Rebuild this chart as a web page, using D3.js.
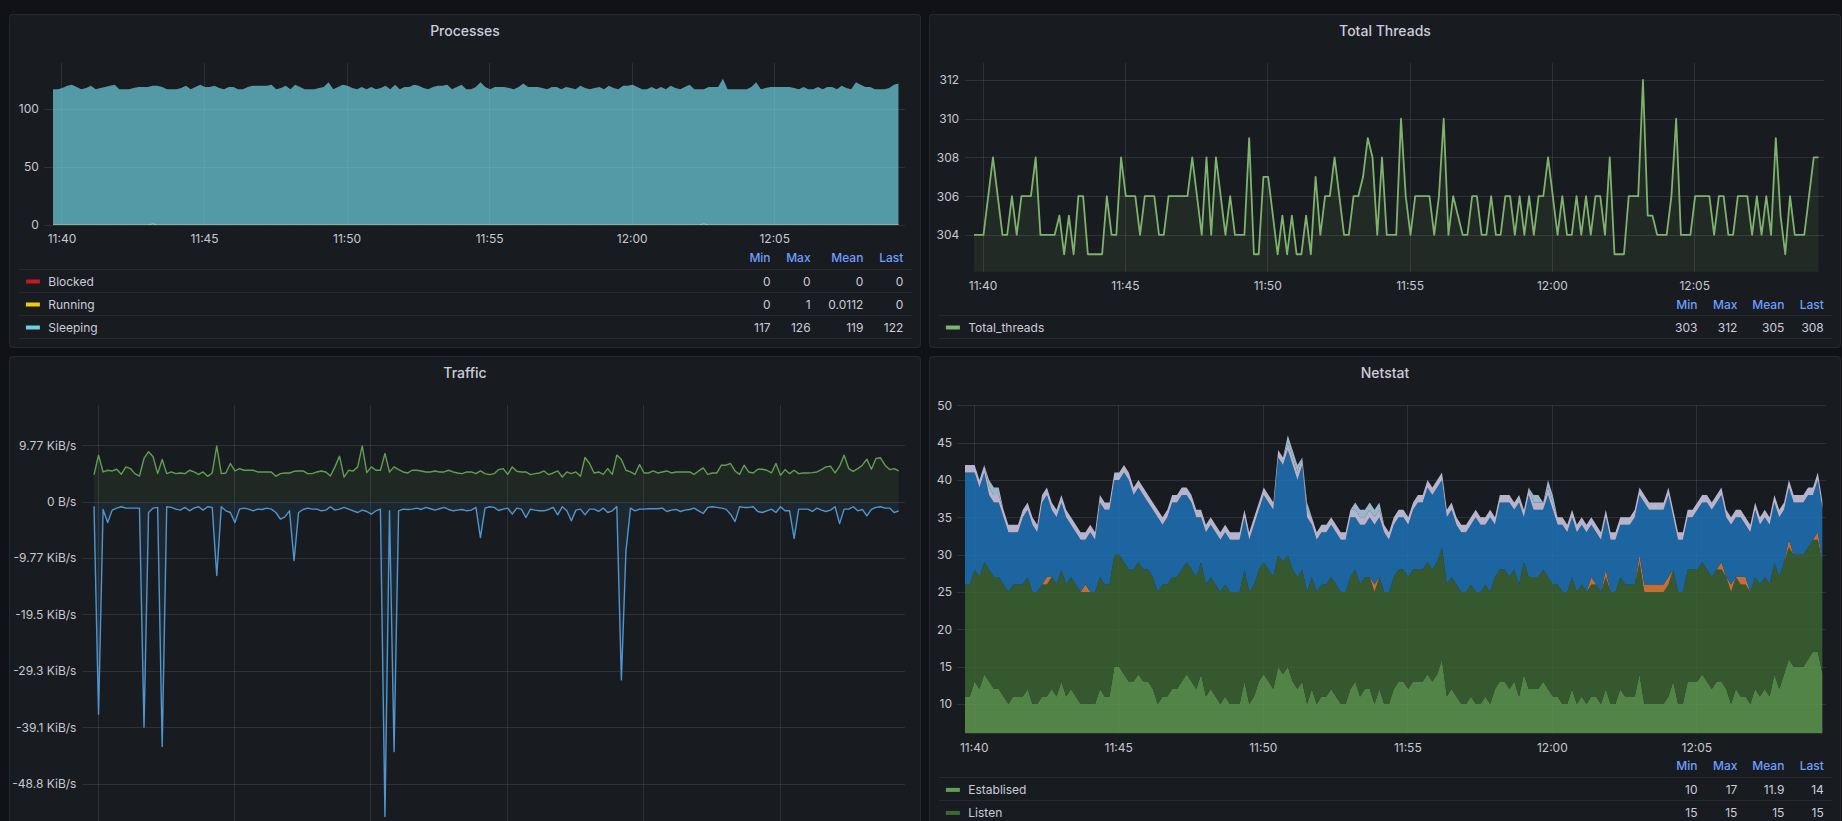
<!DOCTYPE html>
<html>
<head>
<meta charset="utf-8">
<script src="https://cdn.jsdelivr.net/npm/d3@7"></script>
<style>
html,body{margin:0;padding:0;background:#111217;overflow:hidden}
svg{display:block}
</style>
</head>
<body>
<svg id="chart" width="1842" height="821"></svg>
<script>
// ---------------- DATA ----------------
const startClock = [11, 39, 42];   // first sample time (h, m, s)
const stepSeconds = 10;            // sample interval
const legendHeaders = ["Min", "Max", "Mean", "Last"];

// Processes
const procBlocked = [
0,0,0,0,0,0,0,0,0,0, 0,0,0,0,0,0,0,0,0,0, 0,0,0,0,0,0,0,0,0,0, 0,0,0,0,0,0,0,0,0,0,
0,0,0,0,0,0,0,0,0,0, 0,0,0,0,0,0,0,0,0,0, 0,0,0,0,0,0,0,0,0,0, 0,0,0,0,0,0,0,0,0,0,
0,0,0,0,0,0,0,0,0,0, 0,0,0,0,0,0,0,0,0,0, 0,0,0,0,0,0,0,0,0,0, 0,0,0,0,0,0,0,0,0,0,
0,0,0,0,0,0,0,0,0,0, 0,0,0,0,0,0,0,0,0,0, 0,0,0,0,0,0,0,0,0,0, 0,0,0,0,0,0,0,0,0,0,
0,0,0,0,0,0,0,0,0,0, 0,0,0,0,0,0,0,0,0];
const procRunning = [
0,0,0,0,0,0,0,0,0,0, 0,0,0,0,0,0,0,0,0,0, 0,1,0,0,0,0,0,0,0,0, 0,0,0,0,0,0,0,0,0,0,
0,0,0,0,0,0,0,0,0,0, 0,0,0,0,0,0,0,0,0,0, 0,0,0,0,0,0,0,0,0,0, 0,0,0,0,0,0,0,0,0,0,
0,0,0,0,0,0,0,0,0,0, 0,0,0,0,0,0,0,0,0,0, 0,0,0,0,0,0,0,0,0,0, 0,0,0,0,0,0,0,0,0,0,
0,0,0,0,0,0,0,0,0,0, 0,0,0,0,0,0,0,1,0,0, 0,0,0,0,0,0,0,0,0,0, 0,0,0,0,0,0,0,0,0,0,
0,0,0,0,0,0,0,0,0,0, 0,0,0,0,0,0,0,0,0];
const procSleeping = [
117,117,118,120,121,119,117,118,120,117, 118,119,120,121,117,117,117,118,119,119,
119,120,120,119,117,117,117,118,120,117, 119,121,119,119,120,118,117,119,119,117,
117,119,120,120,120,120,121,117,118,120, 117,121,119,117,117,117,118,119,123,117,
119,121,120,118,117,119,117,119,117,118, 120,117,121,117,119,119,121,120,118,117,
119,120,120,121,117,119,121,117,117,119, 123,119,117,119,119,119,118,117,119,122,
119,119,119,118,117,119,119,117,119,118, 117,120,118,117,118,119,117,120,118,117,
120,120,121,119,117,117,119,117,119,117, 120,118,117,119,121,117,117,117,119,119,
119,126,117,117,117,117,117,119,123,117, 118,119,119,119,119,119,118,117,119,117,
117,119,117,119,119,117,120,118,117,123, 121,119,119,117,117,117,118,121,122];
const procYTicks = [0, 50, 100];
const procLegend = [
  {name: "Blocked",  stats: ["0", "0", "0", "0"]},
  {name: "Running",  stats: ["0", "1", "0.0112", "0"]},
  {name: "Sleeping", stats: ["117", "126", "119", "122"]}
];

// Total Threads
const totalThreads = [
304,304,304,306,308,306,304,304,306,304, 306,306,306,308,304,304,304,304,305,303,
305,303,306,306,303,303,303,303,306,304, 304,308,306,306,306,304,306,306,306,304,
304,306,306,306,306,306,308,306,304,308, 304,308,306,304,306,304,304,304,309,303,
303,307,307,305,303,305,303,305,303,303, 305,303,307,304,306,306,308,306,304,304,
306,306,307,309,308,304,308,304,304,304, 310,306,304,306,306,306,306,304,306,310,
304,306,305,304,304,306,306,304,304,306, 304,304,306,306,304,306,304,306,304,306,
306,308,306,304,306,304,304,306,304,306, 304,306,306,304,308,303,303,303,306,306,
306,312,305,305,304,304,304,306,310,304, 304,304,306,306,306,306,304,306,306,304,
304,306,306,306,304,306,304,306,304,309, 305,303,306,304,304,304,306,308,308];
const threadYTicks = [304, 306, 308, 310, 312];
const threadLegend = [{name: "Total_threads", stats: ["303", "312", "305", "308"]}];

// Traffic (B/s), starts one sample later than the others
const trafficRecv = [
4790,8260,5270,5570,5450,5750,4850,6170,5870,4970, 4550,7660,8860,7960,4970,7490,4970,5270,4970,5090,
4970,5570,5270,4850,5270,4490,5090,9880,4970,5090, 6770,5450,5870,5570,5570,5570,5270,5270,5270,5270,
4490,4970,5090,5090,5390,5450,5450,4970,4970,5270, 5450,5270,4550,6170,8080,4370,5570,5450,6170,9880,
5150,6170,5570,5570,8560,5270,6170,5690,5270,5090, 5570,5570,5450,5270,5270,5450,5270,5270,5570,5270,
5090,4970,5270,5270,4970,5450,4970,4790,4970,5690, 5870,4850,6170,5390,5270,5270,4790,4970,5090,5450,
4790,5090,5450,4370,5270,4970,5270,4490,7840,6770, 5090,5270,4850,5870,4850,8260,7490,5570,5270,4850,
6590,5090,5090,5450,5090,5270,5450,5090,5270,5270, 5270,5270,4850,5450,5990,4850,5090,5090,6470,6470,
6770,5450,4850,6470,5270,5090,5750,5750,5570,5090, 6770,4670,5690,4970,5570,4970,5090,5090,5150,5270,
5690,6170,6290,5090,6290,8260,5870,5390,5870,6470, 7540,5750,7660,7780,6470,5690,5870,5450];
const trafficSent = [
-800,-37700,-1400,-3710,-1500,-1140,-900,-1140,-1140,-1140, -1140,-40000,-1900,-1140,-1020,-43400,-900,-1020,-1320,-1500,
-1020,-1620,-1140,-900,-1500,-900,-1020,-13100,-900,-1620, -1920,-3710,-1320,-1140,-1320,-1620,-1320,-1380,-1140,-1320,
-1920,-3110,-2690,-1620,-10460,-1920,-1380,-1140,-1320,-1320, -1620,-1500,-900,-1500,-1320,-1020,-1320,-1620,-1920,-1500,
-1740,-2220,-1620,-1320,-55850,-1620,-44330,-1620,-1320,-1380, -1320,-1140,-1380,-1020,-1260,-1500,-1260,-1020,-1380,-1620,
-1500,-1380,-1620,-1500,-1020,-6380,-1140,-900,-1020,-1560, -1320,-1140,-2220,-1140,-1320,-2810,-1320,-1500,-1620,-1620,
-1380,-1020,-2330,-900,-1620,-3370,-1500,-1320,-2330,-1320, -1320,-1740,-1140,-1920,-1620,-880,-31600,-8870,-1140,-1620,
-1320,-1320,-1260,-1260,-1260,-1140,-1740,-1500,-1380,-1740, -1500,-1380,-1140,-1620,-2100,-1020,-900,-1020,-1140,-1320,
-2220,-3530,-900,-1020,-1020,-900,-1740,-1920,-1620,-1320, -1920,-900,-1620,-1620,-6490,-1320,-1320,-1320,-1740,-1140,
-1500,-1740,-1500,-900,-3890,-1320,-1320,-900,-1620,-1380, -2520,-1380,-1020,-900,-1140,-1140,-1920,-1620];
const trafficYTicks = [10000, 0, -10000, -20000, -30000, -40000, -50000];

// Netstat (stacked)
const netEstablised = [
11,11,13,12,14,13,12,12,11,10, 11,11,11,12,10,10,11,11,12,11, 13,11,12,11,10,10,10,10,12,11,
11,15,15,14,13,13,14,13,13,12, 10,11,11,12,12,13,14,13,12,14, 11,12,11,10,11,10,10,10,13,10,
11,13,14,13,12,15,14,15,13,12, 13,10,12,10,11,11,12,11,10,10, 12,13,11,12,12,10,12,10,10,12,
13,13,12,13,13,13,14,13,14,16, 11,12,11,10,10,11,10,10,11,10, 12,13,13,12,13,11,14,12,12,12,
13,12,11,11,10,10,12,10,11,10, 11,11,10,12,10,10,12,11,11,11, 14,10,10,10,10,10,11,13,10,10,
13,13,13,14,13,12,13,13,12,10, 12,11,11,10,12,11,12,11,14,12, 14,16,15,15,15,16,17,17,14];
const netListen = [
15,15,15,15,15,15,15,15,15,15, 15,15,15,15,15,15,15,15,15,15, 15,15,15,15,15,15,15,15,15,15,
15,15,15,15,15,15,15,15,15,15, 15,15,15,15,15,15,15,15,15,15, 15,15,15,15,15,15,15,15,15,15,
15,15,15,15,15,15,15,15,15,15, 15,15,15,15,15,15,15,15,15,15, 15,15,15,15,15,15,15,15,15,15,
15,15,15,15,15,15,15,15,15,15, 15,15,15,15,15,15,15,15,15,15, 15,15,15,15,15,15,15,15,15,15,
15,15,15,15,15,15,15,15,15,15, 15,15,15,15,15,15,15,15,15,15, 15,15,15,15,15,15,15,15,15,15,
15,15,15,15,15,15,15,15,15,15, 15,15,15,15,15,15,15,15,15,15, 15,15,15,15,15,15,15,15,15];
const netCloseWait = [
0,0,0,0,0,0,0,0,0,0, 0,0,0,0,0,0,0,1,0,0, 0,0,0,0,0,1,0,0,0,0, 0,0,0,0,0,0,0,0,0,0,
0,0,0,0,0,0,0,0,0,0, 0,0,0,0,0,0,0,0,0,0, 0,0,0,0,0,0,0,0,0,0, 0,0,0,0,0,0,0,0,0,0,
0,0,0,0,0,1,0,0,0,0, 0,0,0,0,0,0,0,0,0,0, 0,0,0,0,0,0,0,0,0,0, 0,0,0,0,0,0,0,0,0,0,
0,0,0,0,0,0,0,0,0,0, 1,0,0,1,0,0,0,0,0,0, 1,1,1,1,1,1,1,0,0,0, 0,0,0,0,0,0,0,1,0,1,
0,1,1,0,0,0,0,0,0,0, 0,1,0,0,0,0,0,1,0];
const netTimeWait = [
15,15,13,12,12,10,10,10,9,8, 7,7,9,9,9,8,11,11,9,9, 9,9,7,7,7,6,8,7,10,10,
10,10,10,12,12,10,10,10,9,9, 10,8,9,10,10,10,9,9,8,6, 7,7,7,7,7,7,7,7,7,7,
8,8,9,9,9,13,13,14,14,13, 14,10,7,7,7,7,7,7,7,7, 8,7,8,7,8,8,8,8,7,7,
7,7,7,8,9,9,10,10,10,9, 9,9,8,8,8,8,10,9,8,10, 7,9,9,10,8,11,6,11,9,9,
8,11,10,8,9,8,8,8,8,8, 7,7,7,7,7,7,7,8,8,9, 8,11,10,10,10,10,11,7,7,7,
7,7,8,8,9,9,9,9,8,8, 8,8,7,8,9,8,8,8,8,8, 7,7,7,7,7,7,6,7,7];
const netSynSent = [
1,1,1,1,1,1,1,1,1,1, 1,1,1,1,1,1,1,1,1,1, 1,1,1,1,1,1,1,1,1,1, 1,1,1,1,1,1,1,1,1,1,
1,1,1,1,1,1,1,1,1,1, 1,1,1,1,1,1,1,1,1,1, 1,1,1,1,1,1,1,1,1,1, 1,1,1,1,1,1,1,1,1,1,
1,1,1,1,1,1,1,1,1,1, 1,1,1,1,1,1,1,1,1,1, 1,1,1,1,1,1,1,1,1,1, 1,1,1,1,1,1,1,1,1,1,
1,1,1,1,1,1,1,1,1,1, 1,1,1,1,1,1,1,1,1,1, 1,1,1,1,1,1,1,1,1,1, 1,1,1,1,1,1,1,1,1,1,
1,1,1,1,1,1,1,1,1,1, 1,1,1,1,1,1,1,1,1];
const netFinWait = [
0,0,0,0,0,1,1,1,0,0, 0,0,0,0,0,0,0,0,0,0, 0,0,0,0,0,0,0,0,0,0, 0,0,0,0,0,0,0,0,0,0,
0,0,0,0,0,0,0,0,0,0, 0,0,0,0,0,0,0,0,0,0, 0,0,0,0,0,0,0,1,1,1, 0,1,0,0,0,0,0,0,0,0,
0,1,1,1,1,1,1,0,0,0, 0,0,0,0,0,0,0,0,0,0, 0,0,0,0,0,0,0,0,0,0, 0,0,0,0,0,0,0,0,1,1,
0,1,1,0,0,0,0,0,0,0, 0,0,0,0,0,0,0,0,0,0, 0,0,0,0,0,0,0,0,0,0, 0,0,0,0,0,0,0,0,0,0,
0,0,0,0,0,0,0,0,0,0, 0,0,0,0,0,0,0,0,0];
const netYTicks = [10, 15, 20, 25, 30, 35, 40, 45, 50];
const netLegend = [
  {name: "Establised", stats: ["10", "17", "11.9", "14"]},
  {name: "Listen",     stats: ["15", "15", "15", "15"]}
];

// ---------------- STYLE ----------------
const FONT = "Inter, 'Noto Sans', sans-serif";
const TEXT = "#ccccdc";
const TICK = "#c8c8d2";
const GRID = "rgba(204,204,220,0.12)";
const SEP = "rgba(204,204,220,0.08)";
const HEAD = "#6E9FFF";

const times = d3.range(totalThreads.length).map(i =>
  new Date(2021, 0, 1, startClock[0], startClock[1], startClock[2] + i * stepSeconds));
const trafficTimes = times.slice(times.length - trafficRecv.length);

const svg = d3.select("#chart").attr("font-family", FONT);

function panel(x0, y0, x1, y1, title) {
  svg.append("rect").attr("x", x0).attr("y", y0).attr("width", x1 - x0).attr("height", y1 - y0)
    .attr("rx", 3).attr("fill", "#181b1f").attr("stroke", "rgba(204,204,220,0.1)");
  svg.append("text").attr("x", (x0 + x1) / 2).attr("y", y0 + 21.3).attr("text-anchor", "middle")
    .attr("fill", TEXT).attr("font-size", 14).attr("font-weight", 500).text(title);
}
function styleAxis(g) {
  g.select(".domain").remove();
  g.attr("font-family", FONT).attr("font-size", 12);
  g.selectAll(".tick line").attr("stroke", GRID).attr("shape-rendering", "crispEdges");
  g.selectAll(".tick text").attr("fill", TICK);
}
function yAxis(y, ticks, fmt, gx0, gx1, labelRight) {
  const g = svg.append("g").attr("transform", `translate(${gx0},0)`)
    .call(d3.axisLeft(y).tickValues(ticks).tickFormat(fmt)
      .tickSizeInner(-(gx1 - gx0)).tickSizeOuter(0).tickPadding(gx0 - labelRight));
  styleAxis(g);
}
function xAxis(x, top, bottom, labelCenterY, show) {
  const g = svg.append("g").attr("transform", `translate(0,${bottom})`)
    .call(d3.axisBottom(x).ticks(d3.timeMinute.every(5))
      .tickFormat(show ? d3.timeFormat("%H:%M") : () => "")
      .tickSizeInner(-(bottom - top)).tickSizeOuter(0)
      .tickPadding(labelCenterY + 4.3 - 8.52 - bottom));
  styleAxis(g);
}
function clip(id, x0, y0, x1, y1) {
  svg.append("clipPath").attr("id", id).append("rect")
    .attr("x", x0).attr("y", y0).attr("width", x1 - x0).attr("height", y1 - y0);
  return svg.append("g").attr("clip-path", `url(#${id})`);
}
function legend(o) {
  const g = svg.append("g").attr("font-size", 12);
  legendHeaders.forEach((h, k) => g.append("text").attr("x", o.cols[k]).attr("y", o.headerY + 4.3)
    .attr("text-anchor", "end").attr("fill", HEAD).attr("font-weight", 500).text(h));
  o.rows.forEach((r, idx) => {
    const sy = o.sep0 + idx * 23;
    g.append("line").attr("x1", o.left + 9.4).attr("x2", o.right - 8.6).attr("y1", sy).attr("y2", sy)
      .attr("stroke", SEP).attr("shape-rendering", "crispEdges");
    const cy = sy + 12.2;
    g.append("rect").attr("x", o.left + 16.4).attr("y", cy - 2).attr("width", 14).attr("height", 4)
      .attr("fill", o.colors[idx]);
    g.append("text").attr("x", o.left + 38.8).attr("y", cy + 4.3).attr("fill", TEXT).text(r.name);
    r.stats.forEach((s, k) => g.append("text").attr("x", o.cols[k]).attr("y", cy + 4.3)
      .attr("text-anchor", "end").attr("fill", TEXT).text(s));
  });
  const ly = o.sep0 + o.rows.length * 23;
  g.append("line").attr("x1", o.left + 9.4).attr("x2", o.right - 8.6).attr("y1", ly).attr("y2", ly)
    .attr("stroke", SEP).attr("shape-rendering", "crispEdges");
}

// ---------------- PANELS ----------------
panel(9.5, 14.5, 920.5, 347.5, "Processes");
panel(929.5, 14.5, 1840.5, 347.5, "Total Threads");
panel(9.5, 356.5, 920.5, 1000, "Traffic");
panel(929.5, 356.5, 1840.5, 1000, "Netstat");

// ---- Processes ----
{
  const x = d3.scaleTime().domain([times[0], times[times.length - 1]]).range([52.9, 898.7]);
  const y = d3.scaleLinear().domain([0, 140]).range([225, 62.6]);
  yAxis(y, procYTicks, d3.format("d"), 44, 904.6, 38.8);
  xAxis(x, 62.6, 225, 239, true);
  const g = clip("procclip", 52.9, 62.6, 898.7, 225);
  const line = d3.line().x((d, i) => x(times[i])).y(d => y(d));
  g.append("path").attr("d", line(procBlocked)).attr("fill", "none").attr("stroke", "#C4162A").attr("stroke-width", 1);
  g.append("path").attr("d", line(procRunning)).attr("fill", "none").attr("stroke", "#F2CC0C").attr("stroke-width", 1);
  const area = d3.area().x((d, i) => x(times[i])).y0(y(0)).y1(d => y(d));
  g.append("path").attr("d", area(procSleeping)).attr("fill", "#6ED0E0").attr("fill-opacity", 0.7);
  legend({left: 9.5, right: 920.5, headerY: 258, sep0: 269.3, cols: [770.6, 810.6, 863.4, 903.4],
    rows: procLegend, colors: ["#C4162A", "#F2CC0C", "#6ED0E0"]});
}

// ---- Total Threads ----
{
  const x = d3.scaleTime().domain([times[0], times[times.length - 1]]).range([974, 1818.5]);
  const y = d3.scaleLinear().domain([302.1, 312.86]).range([271.7, 63.3]);
  yAxis(y, threadYTicks, d3.format("d"), 965, 1824.4, 959.2);
  xAxis(x, 63.3, 271.7, 285.7, true);
  const area = d3.area().x((d, i) => x(times[i])).y0(y.range()[0]).y1(d => y(d));
  svg.append("path").attr("d", area(totalThreads)).attr("fill", "#7EB26D").attr("fill-opacity", 0.1);
  const line = d3.line().x((d, i) => x(times[i])).y(d => y(d));
  svg.append("path").attr("d", line(totalThreads)).attr("fill", "none").attr("stroke", "#7EB26D")
    .attr("stroke-width", 1.8).attr("stroke-linejoin", "round");
  legend({left: 929.5, right: 1840.5, headerY: 304.3, sep0: 315.3, cols: [1697.5, 1737.4, 1784.4, 1823.8],
    rows: threadLegend, colors: ["#7EB26D"]});
}

// ---- Traffic ----
{
  const x = d3.scaleTime().domain([trafficTimes[0], trafficTimes[trafficTimes.length - 1]]).range([94, 898.7]);
  const y = d3.scaleLinear().domain([-60000, 17145]).range([840, 405]);
  const fmtBytes = v => v === 0 ? "0 B/s" : (v < 0 ? "-" : "") + d3.format(".3r")(Math.abs(v) / 1024) + " KiB/s";
  yAxis(y, trafficYTicks, fmtBytes, 82.2, 904.6, 76.4);
  xAxis(x, 405, 840, 855, false);
  const series = [[trafficRecv, "#629E51"], [trafficSent, "#5195CE"]];
  series.forEach(([vals, col]) => {
    const area = d3.area().x((d, i) => x(trafficTimes[i])).y0(y(0)).y1(d => y(d));
    svg.append("path").attr("d", area(vals)).attr("fill", col).attr("fill-opacity", 0.1);
    const line = d3.line().x((d, i) => x(trafficTimes[i])).y(d => y(d));
    svg.append("path").attr("d", line(vals)).attr("fill", "none").attr("stroke", col)
      .attr("stroke-width", 1.4).attr("stroke-linejoin", "round");
  });
}

// ---- Netstat ----
{
  const x = d3.scaleTime().domain([times[0], times[times.length - 1]]).range([965, 1822.6]);
  const y = d3.scaleLinear().domain([6.08, 50]).range([733.3, 405.3]);
  yAxis(y, netYTicks, d3.format("d"), 957.4, 1825.6, 952);
  xAxis(x, 405.3, 733.3, 747.7, true);
  const keys = ["Establised", "Listen", "Close_wait", "Time_wait", "Syn_sent", "Fin_wait"];
  const cols = ["#629E51", "#3F6833", "#EF843C", "#1F78C1", "#DEDAF7", "#BADFF4"];
  const src = [netEstablised, netListen, netCloseWait, netTimeWait, netSynSent, netFinWait];
  const rows = times.map((t, i) => { const r = {t}; keys.forEach((k, j) => r[k] = src[j][i]); return r; });
  const stacked = d3.stack().keys(keys)(rows);
  const g = clip("netclip", 965, 405.3, 1822.6, 733.3);
  const area = d3.area().x(d => x(d.data.t)).y0(d => y(d[0])).y1(d => y(d[1]));
  stacked.forEach((s, j) => g.append("path").attr("d", area(s)).attr("fill", cols[j]).attr("fill-opacity", 0.8));
  legend({left: 929.5, right: 1840.5, headerY: 765.7, sep0: 777.7, cols: [1697.5, 1737.4, 1784.4, 1823.8],
    rows: netLegend, colors: ["#629E51", "#3F6833"]});
}
</script>
</body>
</html>
